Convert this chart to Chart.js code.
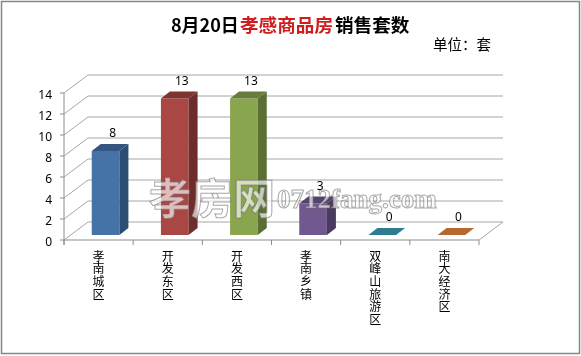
<!DOCTYPE html>
<html lang="zh">
<head>
  <meta charset="UTF-8" />
  <title>8月20日孝感商品房销售套数</title>
  <script src="https://cdn.jsdelivr.net/npm/chart.js"></script>
  <style>
    html, body { margin: 0; padding: 0; background: #fff; }
    #wrap { width: 581px; height: 356px; }
  </style>
</head>
<body>
<div id="wrap"><canvas id="chart" width="581" height="356"></canvas></div>

<script>
const categories = ['孝南城区', '开发东区', '开发西区', '孝南乡镇', '双峰山旅游区', '南大经济区'];
const values = [8, 13, 13, 3, 0, 0];
const yTicks = [0, 2, 4, 6, 8, 10, 12, 14];

const frontColors = ['#4572a7', '#aa4643', '#89a54e', '#71588f', '#3d8a9e', '#c87a3a'];
const sideColors = ['#2e4d72', '#6e2d2b', '#5b6e34', '#4a3a5f', '#2a6272', '#8f5527'];
const topColors = ['#33557f', '#7f3432', '#687d3b', '#55426d', '#2f7b8f', '#b5692f'];

const CJK = '"Noto Sans CJK SC", sans-serif';
const LATIN = '"Noto Sans", sans-serif';

// the bars stand on a plane inside the floor, so the walls are offset from the scale
const FRONT = { x: -7, y: 5 };
const BACK = { x: 17, y: -13 };
const DEPTH = { x: 9, y: 7 };

const line = (ctx, x1, y1, x2, y2) => {
  ctx.beginPath();
  ctx.moveTo(x1, y1);
  ctx.lineTo(x2, y2);
  ctx.stroke();
};

const poly = (ctx, color, pts) => {
  ctx.fillStyle = color;
  ctx.beginPath();
  pts.forEach((p, i) => (i ? ctx.lineTo(p[0], p[1]) : ctx.moveTo(p[0], p[1])));
  ctx.closePath();
  ctx.fill();
};

const wallsPlugin = {
  id: 'walls',
  beforeDatasetsDraw(chart) {
    const { ctx, chartArea, scales } = chart;
    const fl = chartArea.left + FRONT.x, fr = chartArea.right + FRONT.x;
    const bl = chartArea.left + BACK.x, br = chartArea.right + BACK.x;
    const y0 = scales.y.getPixelForValue(0);
    const y14 = scales.y.getPixelForValue(14);
    ctx.save();
    ctx.lineWidth = 1;
    ctx.strokeStyle = '#a6a6a6';
    yTicks.forEach((v) => {
      const y = scales.y.getPixelForValue(v);
      line(ctx, fl, y + FRONT.y, bl, y + BACK.y);
      line(ctx, bl, y + BACK.y, br, y + BACK.y);
    });
    line(ctx, fr, y0 + FRONT.y, br, y0 + BACK.y);

    ctx.strokeStyle = '#8c8c8c';
    line(ctx, fl, y14 + FRONT.y, fl, y0 + FRONT.y + 5);
    line(ctx, fl, y0 + FRONT.y, fr, y0 + FRONT.y);
    yTicks.forEach((v) => {
      const y = scales.y.getPixelForValue(v) + FRONT.y;
      line(ctx, fl - 4, y, fl, y);
    });
    const step = (fr - fl) / categories.length;
    for (let i = 0; i <= categories.length; i++) {
      line(ctx, fl + i * step, y0 + FRONT.y, fl + i * step, y0 + FRONT.y + 5);
    }
    ctx.restore();
  }
};

const barSidesPlugin = {
  id: 'barSides',
  afterDatasetsDraw(chart) {
    const { ctx, scales } = chart;
    const meta = chart.getDatasetMeta(0);
    const base = scales.y.getPixelForValue(0);
    ctx.save();
    meta.data.forEach((bar, i) => {
      const l = bar.x - bar.width / 2, r = bar.x + bar.width / 2, t = bar.y;
      poly(ctx, sideColors[i], [[r, t], [r + DEPTH.x, t - DEPTH.y], [r + DEPTH.x, base - DEPTH.y], [r, base]]);
      poly(ctx, topColors[i], [[l, t], [l + DEPTH.x, t - DEPTH.y], [r + DEPTH.x, t - DEPTH.y], [r, t]]);
      ctx.fillStyle = '#000';
      ctx.font = '12px ' + LATIN;
      ctx.textAlign = 'center';
      ctx.textBaseline = 'middle';
      ctx.fillText(String(values[i]), bar.x + 7, t - 17);
    });
    ctx.restore();
  }
};

const textPlugin = {
  id: 'texts',
  afterDraw(chart) {
    const { ctx, width, height } = chart;
    ctx.save();

    // watermark
    ctx.textBaseline = 'middle';
    ctx.textAlign = 'left';
    ctx.lineWidth = 1;
    ctx.strokeStyle = 'rgba(110,110,110,0.6)';
    ctx.fillStyle = 'rgba(255,255,255,0.65)';
    ctx.font = 'bold 42px ' + CJK;
    ctx.fillText('孝房网', 149, 198);
    ctx.strokeText('孝房网', 149, 198);
    ctx.font = 'bold 27px "Liberation Serif", serif';
    ctx.fillText('0712fang.com', 277, 201);
    ctx.strokeText('0712fang.com', 277, 201);

    // title in three colours
    ctx.textBaseline = 'middle';
    ctx.fillStyle = '#000';
    ctx.font = 'bold 18px ' + CJK;
    ctx.fillText('8月20日', 171, 25);
    ctx.font = 'bold 18.6px ' + CJK;
    ctx.fillStyle = '#d01c1c';
    ctx.fillText('孝感商品房', 240, 25);
    ctx.fillStyle = '#000';
    ctx.fillText('销售套数', 335, 25);

    ctx.font = '14.5px ' + CJK;
    ctx.fillText('单位：套', 433, 44);

    // outer frame
    ctx.strokeStyle = '#868686';
    ctx.lineWidth = 1.5;
    ctx.strokeRect(1.5, 1.5, width - 3, height - 4);
    ctx.restore();
  }
};

new Chart(document.getElementById('chart').getContext('2d'), {
  type: 'bar',
  data: {
    labels: categories.map((c) => c.split('')),
    datasets: [{
      data: values,
      backgroundColor: frontColors,
      borderWidth: 0,
      barPercentage: 0.4,
      categoryPercentage: 1
    }]
  },
  options: {
    responsive: false,
    animation: false,
    layout: { padding: { top: 88, right: 95, left: 0, bottom: 0 } },
    plugins: { legend: { display: false }, tooltip: { enabled: false }, title: { display: false } },
    scales: {
      x: {
        grid: { display: false, drawTicks: false },
        border: { display: false },
        afterFit: (s) => { s.height = 121; },
        ticks: {
          autoSkip: false,
          maxRotation: 0,
          minRotation: 0,
          labelOffset: -7,
          padding: 15,
          color: '#000',
          font: { family: CJK, size: 12, lineHeight: 1.05 }
        }
      },
      y: {
        min: 0,
        max: 14,
        grid: { display: false, drawTicks: false },
        border: { display: false },
        afterFit: (s) => { s.width = 71; },
        afterBuildTicks: (s) => { s.ticks = yTicks.map((v) => ({ value: v })); },
        ticks: {
          labelOffset: 8,
          padding: 19,
          color: '#000',
          font: { family: LATIN, size: 12 }
        }
      }
    }
  },
  plugins: [wallsPlugin, barSidesPlugin, textPlugin]
});
</script>
</body>
</html>
